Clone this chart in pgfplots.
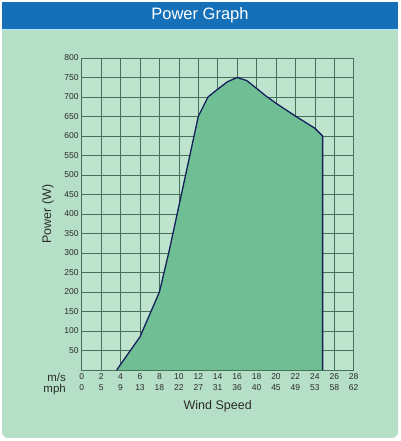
\documentclass[border=0pt]{standalone}
\usepackage{pgfplots}
\pgfplotsset{compat=1.18}
\usepackage{fontspec}
\setmainfont{Liberation Sans}

\definecolor{hdrblue}{HTML}{1570B8}
\definecolor{bggreen}{HTML}{B6DFC7}
\definecolor{plotbg}{HTML}{BEE4CE}
\definecolor{fillgreen}{HTML}{70BF94}
\definecolor{gridgreen}{HTML}{46705A}
\definecolor{curvenavy}{HTML}{14205A}
\definecolor{txt}{HTML}{2B2B2B}

\begin{document}
\begin{tikzpicture}[x=1pt,y=1pt]
% page and panel
\fill[white] (0,0) rectangle (400,441);
\fill[bggreen, rounded corners=6pt] (2,3) rectangle (398,413);
\fill[bggreen] (2,400) rectangle (398,413);
\fill[hdrblue] (2,412) rectangle (398,439);
\draw[white!70!cyan, line width=0.8pt] (2,411.6) -- (398,411.6);
\node[white, font=\fontsize{16.5}{18}\selectfont] at (200,425.5) {Power Graph};

\begin{axis}[
  at={(81.7pt,71pt)}, anchor=south west,
  width=272pt, height=312pt, scale only axis,
  xmin=0, xmax=28, ymin=0, ymax=800,
  xtick={0,2,...,28},
  xticklabels={{0\\0},{2\\5},{4\\9},{6\\13},{8\\18},{10\\22},{12\\27},{14\\31},{16\\36},{18\\40},{20\\45},{22\\49},{24\\53},{26\\58},{28\\62}},
  ytick={50,100,...,800},
  grid=major,
  major grid style={gridgreen, line width=0.5pt},
  axis line style={gridgreen, line width=0.6pt},
  axis background/.style={fill=plotbg},
  tick style={draw=none},
  xticklabel style={align=center, font=\fontsize{8.5}{11.5}\selectfont, text=txt, inner sep=1pt, yshift=-2pt},
  yticklabel style={font=\fontsize{8.5}{10}\selectfont, text=txt, inner sep=1pt, xshift=-2pt},
  /pgf/number format/assume math mode=true,
  xlabel={Wind Speed},
  xlabel style={at={(axis description cs:0.5,0)}, anchor=north, yshift=-27pt,
    font=\fontsize{12.5}{14}\selectfont, text=txt},
  ylabel={Power (W)},
  ylabel style={font=\fontsize{12.5}{14}\selectfont, text=txt, yshift=6pt},
  clip=false,
]
\addplot[fill=fillgreen, draw=none] coordinates {
  (3.6,0) (6,85) (8,200) (9,305) (10,420) (11,535) (12,650) (13,700)
  (14,720) (15,739) (16,750) (17,742) (18,722) (19,702) (20,684)
  (22,651) (24,620) (24.8,600) (24.8,0)} -- cycle;
\addplot[curvenavy, line width=1.3pt, line join=round] coordinates {
  (3.6,0) (6,85) (8,200) (9,305) (10,420) (11,535) (12,650) (13,700)
  (14,720) (15,739) (16,750) (17,742) (18,722) (19,702) (20,684)
  (22,651) (24,620) (24.8,600) (24.8,0)};
\end{axis}
\node[txt, font=\fontsize{11.5}{12}\selectfont, anchor=east, inner sep=0pt] at (66,64) {m/s};
\node[txt, font=\fontsize{11.5}{12}\selectfont, anchor=east, inner sep=0pt] at (66,51) {mph};
\end{tikzpicture}
\end{document}
